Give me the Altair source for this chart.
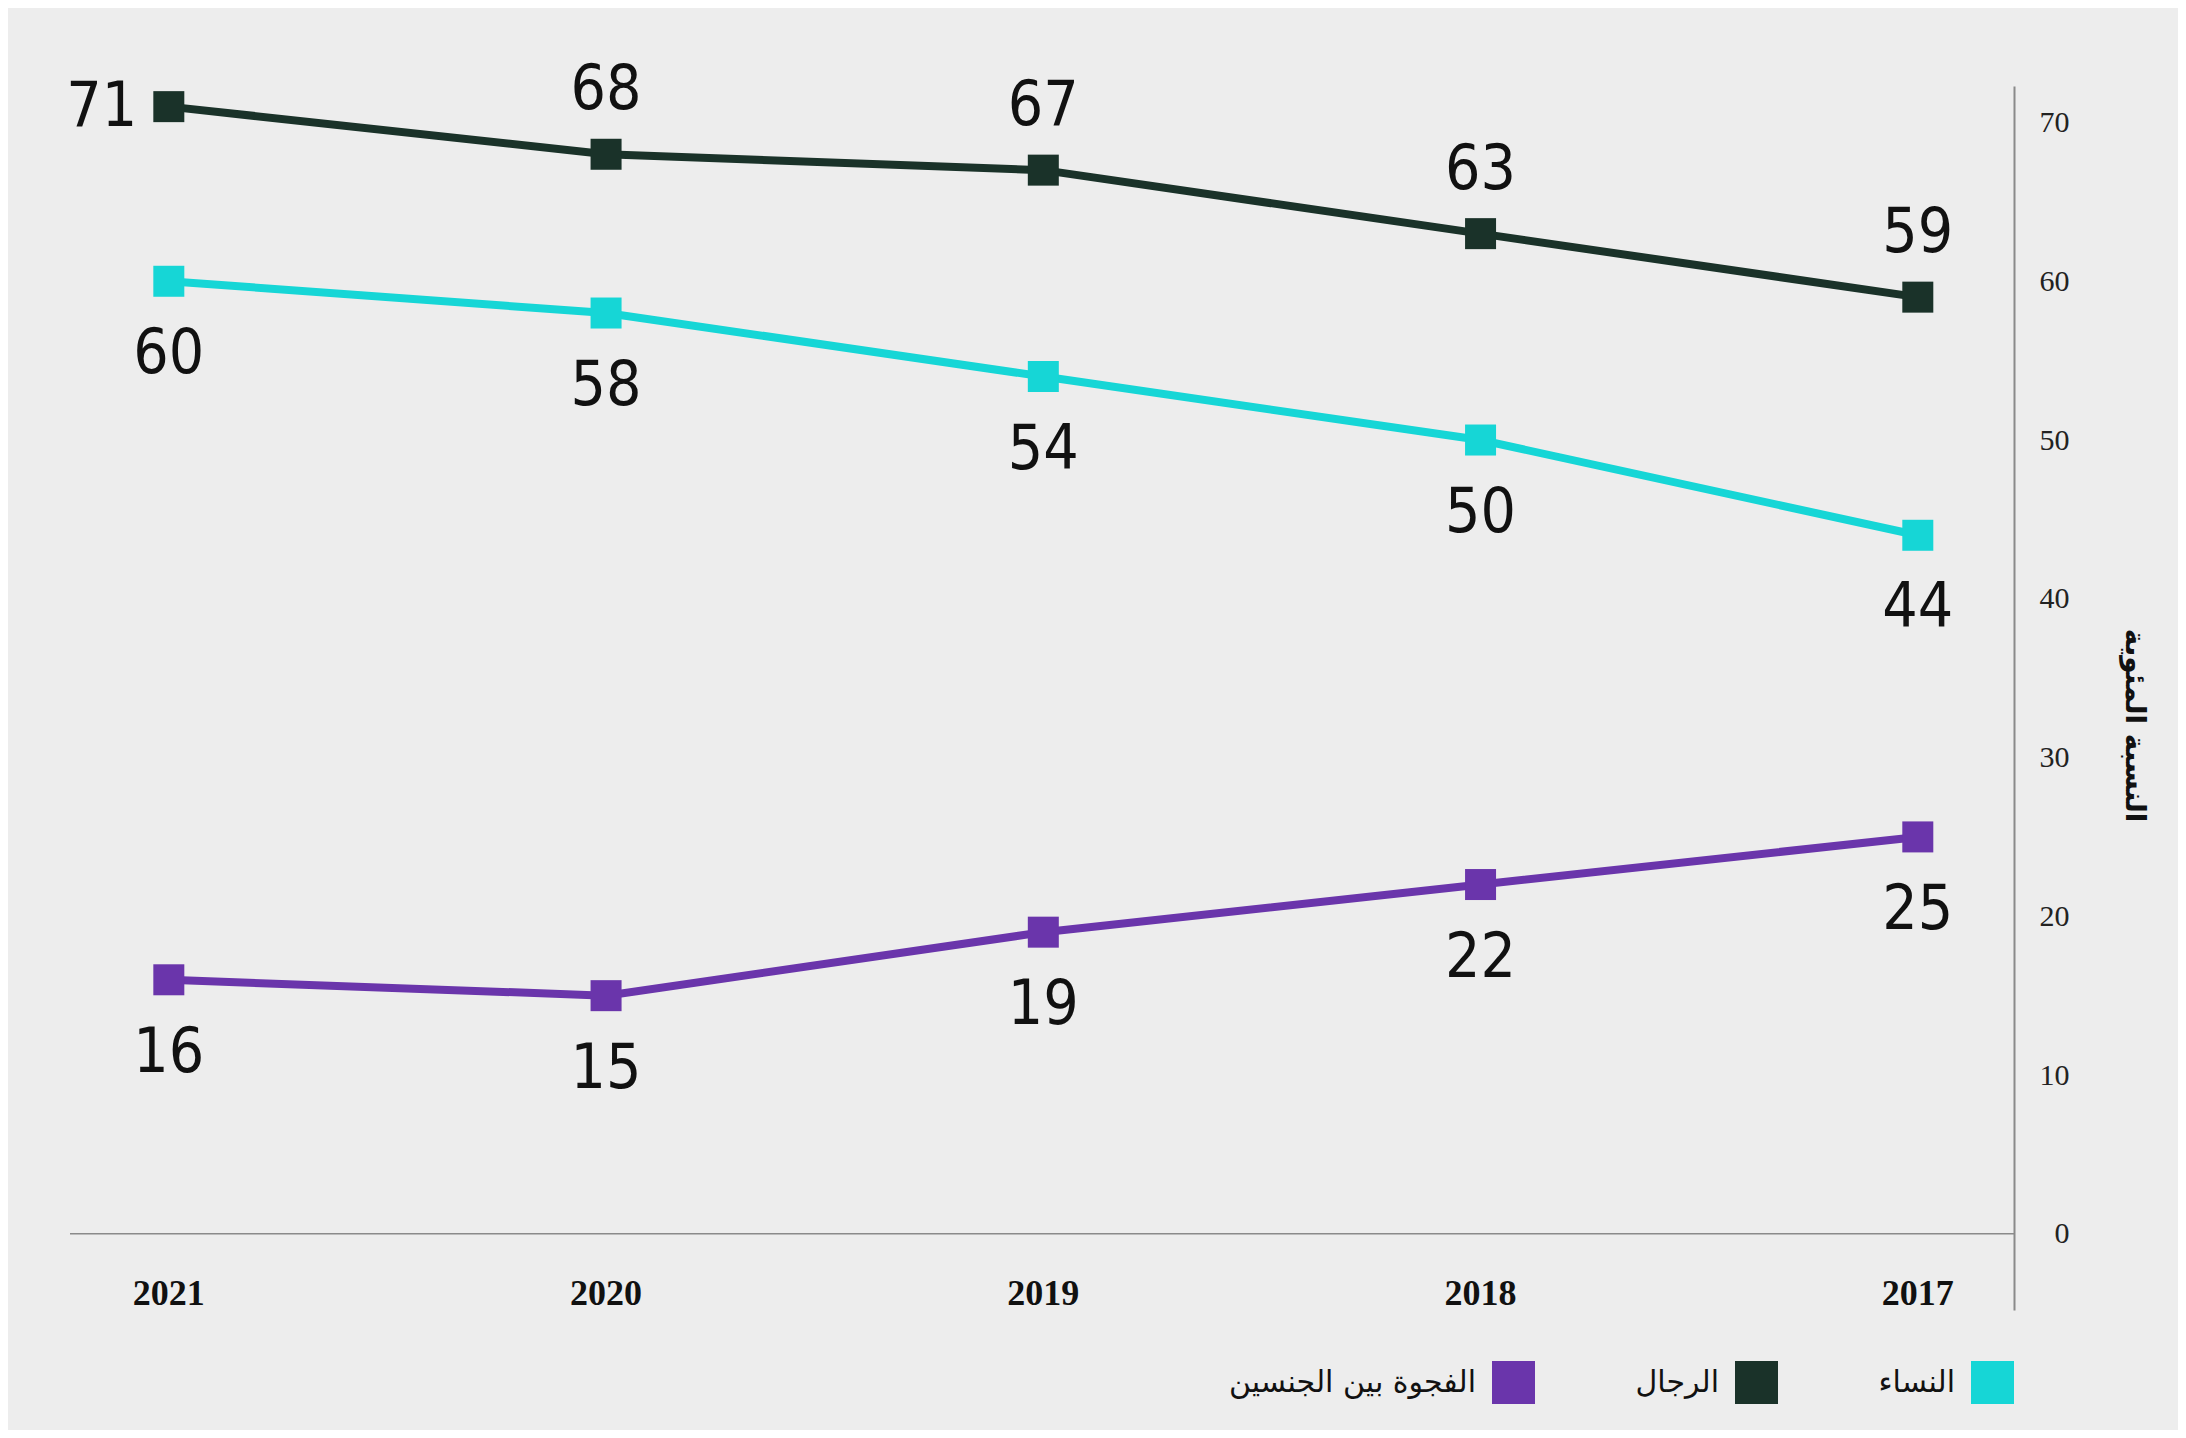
import altair as alt
import pandas as pd

years = [2021, 2020, 2019, 2018, 2017]
women = [60, 58, 54, 50, 44]
men = [71, 68, 67, 63, 59]
gap = [16, 15, 19, 22, 25]
name_women = "النساء"
name_men = "الرجال"
name_gap = "الفجوة بين الجنسين"
y_ticks = [0, 10, 20, 30, 40, 50, 60, 70]
y_title = "النسبة المئوية"

c_women = "#16d6d6"
c_men = "#1a3229"
c_gap = "#6a35ab"

rows = []
for name, vals in [(name_women, women), (name_men, men), (name_gap, gap)]:
    for yr, v in zip(years, vals):
        rows.append({"year": yr, "value": v, "series": name})
df = pd.DataFrame(rows)

men_df = df[df.series == name_men]
men_above = men_df[men_df.year != 2021]
men_left = men_df[men_df.year == 2021]
below_df = df[df.series != name_men]
years_df = pd.DataFrame({"year": years})
zero_df = pd.DataFrame({"value": [0]})

legend_order = [name_gap, name_men, name_women]
color_scale = alt.Scale(domain=legend_order, range=[c_gap, c_men, c_women])

xs = alt.Scale(domain=[2016.78, 2021.226], reverse=True, nice=False, zero=False)
ys = alt.Scale(domain=[-4.8, 72.3], nice=False, zero=False)

x = alt.X("year:Q", scale=xs, axis=None)
y_axis = alt.Axis(
    orient="right", values=y_ticks, grid=False, ticks=False, domain=True,
    domainColor="#8a8a8a", domainWidth=2,
    labelFont="Liberation Serif", labelFontSize=30, labelColor="#222222",
    labelAlign="right", labelPadding=55, labelBaseline="middle",
    title=y_title, titleFont="DejaVu Sans", titleFontSize=28,
    titleFontWeight="bold", titleColor="#111111", titleX=119, titleY=639,
    titleAngle=90, titleAlign="center", titleBaseline="middle",
)
y = alt.Y("value:Q", scale=ys, axis=y_axis)

legend = alt.Legend(
    orient="none", legendX=1422, legendY=1275, direction="horizontal",
    title=None, symbolType="square", symbolSize=1849, symbolStrokeWidth=0,
    symbolOpacity=1, labelFont="DejaVu Sans", labelFontSize=30,
    labelColor="#111111", labelAlign="right", labelOffset={"expr": "-59"},
    columnPadding=100, labelLimit=0,
)
color = alt.Color("series:N", scale=color_scale, legend=legend)

label_font = "Liberation Sans Narrow, DejaVu Sans Condensed, sans-serif"

rule = alt.Chart(zero_df).mark_rule(color="#8a8a8a", strokeWidth=1.5).encode(y=y)

lines = alt.Chart(df).mark_line(strokeWidth=8).encode(
    x=x, y=y, color=color, detail="series:N",
)

points = alt.Chart(df).mark_point(shape="square", filled=True, size=961, opacity=1).encode(
    x=x, y=y, color=color,
)

t_above = alt.Chart(men_above).mark_text(
    font=label_font, fontSize=62, color="#111111", baseline="middle", dy=-64
).encode(x=x, y=y, text="value:Q")

t_left = alt.Chart(men_left).mark_text(
    font=label_font, fontSize=62, color="#111111", baseline="middle", dx=-67
).encode(x=x, y=y, text="value:Q")

t_below = alt.Chart(below_df).mark_text(
    font=label_font, fontSize=62, color="#111111", baseline="middle", dy=73
).encode(x=x, y=y, text="value:Q")

t_years = alt.Chart(years_df).mark_text(
    font="Liberation Serif", fontSize=36, fontWeight="bold", color="#111111", baseline="middle"
).encode(x=x, y=alt.datum(-3.8), text="year:O")

chart = alt.layer(rule, lines, points, t_above, t_left, t_below, t_years).properties(
    width=1944, height=1224,
    autosize=alt.AutoSizeParams(type="none"),
    padding={"left": 62, "top": 78, "right": 164, "bottom": 120},
    background="#ededed",
).configure_view(stroke=None)

chart.save("out.html", embed_options={"renderer": "svg", "actions": False})
